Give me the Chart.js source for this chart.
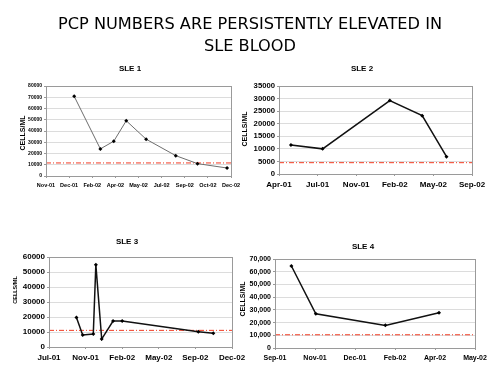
<!DOCTYPE html>
<html>
<head>
<meta charset="utf-8">
<script src="https://cdn.jsdelivr.net/npm/chart.js@4/dist/chart.umd.min.js"></script>
<style>
  body { margin: 0; background: #fff; }
  #page { position: relative; width: 500px; height: 373px; overflow: hidden; font-family: "Liberation Sans", Arial, sans-serif; }
  canvas { position: absolute; left: 0; top: 0; }
  .lbl { position: absolute; transform: translate(-50%, -50%); white-space: nowrap; font-weight: bold; color: #000; z-index: 2; }
  .ytitle { transform: translate(-50%, -50%) rotate(-90deg); }
  #title { position: absolute; left: 0; width: 500px; top: 13px; text-align: center; font-family: "DejaVu Sans", sans-serif; font-size: 16.2px; line-height: 22px; color: #000; z-index: 2; }
</style>
</head>
<body>
<div id="page">
  <div id="title">PCP NUMBERS ARE PERSISTENTLY ELEVATED IN<br>SLE BLOOD</div>
  <canvas id="c1" width="500" height="373"></canvas>
  <canvas id="c2" width="500" height="373"></canvas>
  <canvas id="c3" width="500" height="373"></canvas>
  <canvas id="c4" width="500" height="373"></canvas>
  <div class="lbl" style="left:130px;top:68px;font-size:8px">SLE 1</div>
  <div class="lbl" style="left:362px;top:68px;font-size:8px">SLE 2</div>
  <div class="lbl" style="left:127px;top:241px;font-size:8px">SLE 3</div>
  <div class="lbl" style="left:363px;top:246px;font-size:8px">SLE 4</div>
  <div class="lbl ytitle" style="left:22px;top:133px;font-size:7px">CELLS/ML</div>
  <div class="lbl ytitle" style="left:244px;top:129px;font-size:7px">CELLS/ML</div>
  <div class="lbl ytitle" style="left:15px;top:290px;font-size:5.5px">CELLS/ML</div>
  <div class="lbl ytitle" style="left:242px;top:299px;font-size:7px">CELLS/ML</div>
</div>
<script>
// x positions are in tick units (0 = first tick label)
const sle1Ticks = ["Nov-01", "Dec-01", "Feb-02", "Apr-02", "May-02", "Jul-02", "Sep-02", "Oct-02", "Dec-02"];
const sle1X = [1.22, 2.35, 2.93, 3.47, 4.33, 5.61, 6.55, 7.83];
const sle1Y = [70800, 24100, 30900, 49100, 32700, 18100, 11000, 7100];
const sle1Ref = 11600;

const sle2Ticks = ["Apr-01", "Jul-01", "Nov-01", "Feb-02", "May-02", "Sep-02"];
const sle2X = [0.31, 1.13, 2.87, 3.71, 4.34];
const sle2Y = [11500, 10000, 29200, 23200, 6900];
const sle2Ref = 4500;

const sle3Ticks = ["Jul-01", "Nov-01", "Feb-02", "May-02", "Sep-02", "Dec-02"];
const sle3X = [0.75, 0.92, 1.21, 1.28, 1.44, 1.75, 2.0, 4.08, 4.49];
const sle3Y = [19600, 8000, 8700, 54900, 5300, 17300, 17300, 10100, 9200];
const sle3Ref = 11100;

const sle4Ticks = ["Sep-01", "Nov-01", "Dec-01", "Feb-02", "Apr-02", "May-02"];
const sle4X = [0.41, 1.02, 2.76, 4.1];
const sle4Y = [64500, 26900, 17800, 27700];
const sle4Ref = 10400;

// box round the plot area
const frame = {
  id: "frame",
  afterDraw(chart) {
    const a = chart.chartArea, ctx = chart.ctx;
    ctx.save();
    ctx.strokeStyle = "#9a9a9a";
    ctx.lineWidth = 1;
    ctx.strokeRect(Math.round(a.left) + 0.5, Math.round(a.top) + 0.5, Math.round(a.right - a.left), Math.round(a.bottom - a.top));
    ctx.restore();
  }
};

function panel(id, o) {
  const pts = o.x.map((v, i) => ({ x: v, y: o.y[i] }));
  const last = o.ticks.length - 1;
  const yW = 30, xH = 20;
  new Chart(document.getElementById(id), {
    type: "line",
    data: {
      datasets: [
        { data: pts, borderColor: o.line, borderWidth: o.lw, pointStyle: "rectRot", pointRadius: 2,
          pointBackgroundColor: "#000", pointBorderColor: "#000", pointBorderWidth: 0, tension: 0 },
        { data: [{ x: 0, y: o.ref }, { x: last, y: o.ref }], borderColor: "#f23a22", borderWidth: 1,
          borderDash: [5, 2, 1, 2], pointRadius: 0 }
      ]
    },
    options: {
      responsive: false,
      animation: false,
      events: [],
      layout: { padding: { left: o.l - yW, top: o.t, right: 500 - o.r, bottom: 373 - o.b - xH } },
      plugins: { legend: { display: false }, tooltip: { enabled: false } },
      scales: {
        x: {
          type: "linear", min: 0, max: last,
          afterFit: s => { s.height = xH; },
          ticks: { stepSize: 1, autoSkip: false, maxRotation: 0, color: "#000", padding: 4,
            font: { family: "Liberation Sans", weight: "bold", size: o.xf },
            callback: v => o.ticks[v] },
          grid: { drawOnChartArea: false, tickLength: 2, color: "#9a9a9a" },
          border: { color: "#9a9a9a" }
        },
        y: {
          min: 0, max: o.max,
          afterFit: s => { s.width = yW; },
          ticks: { stepSize: o.step, color: "#000", padding: 2,
            font: { family: "Liberation Sans", weight: "bold", size: o.yf },
            callback: v => o.comma ? v.toLocaleString("en-US") : String(v) },
          grid: { color: "#dcdcdc", tickLength: 2, tickColor: "#9a9a9a" },
          border: { color: "#9a9a9a" }
        }
      }
    },
    plugins: [frame]
  });
}

panel("c1", { ticks: sle1Ticks, x: sle1X, y: sle1Y, ref: sle1Ref, l: 46, t: 86, r: 231, b: 176,
  max: 80000, step: 10000, xf: 5.5, yf: 5, line: "#6e6e6e", lw: 1 });
panel("c2", { ticks: sle2Ticks, x: sle2X, y: sle2Y, ref: sle2Ref, l: 279, t: 86, r: 472, b: 174,
  max: 35000, step: 5000, xf: 8, yf: 7.7, line: "#111", lw: 1.5 });
panel("c3", { ticks: sle3Ticks, x: sle3X, y: sle3Y, ref: sle3Ref, l: 49, t: 257, r: 232, b: 347,
  max: 60000, step: 10000, xf: 8, yf: 8, line: "#111", lw: 1.5 });
panel("c4", { ticks: sle4Ticks, x: sle4X, y: sle4Y, ref: sle4Ref, l: 275, t: 259, r: 475, b: 348,
  max: 70000, step: 10000, xf: 7, yf: 7, line: "#111", lw: 1.5, comma: true });
</script>
</body>
</html>
